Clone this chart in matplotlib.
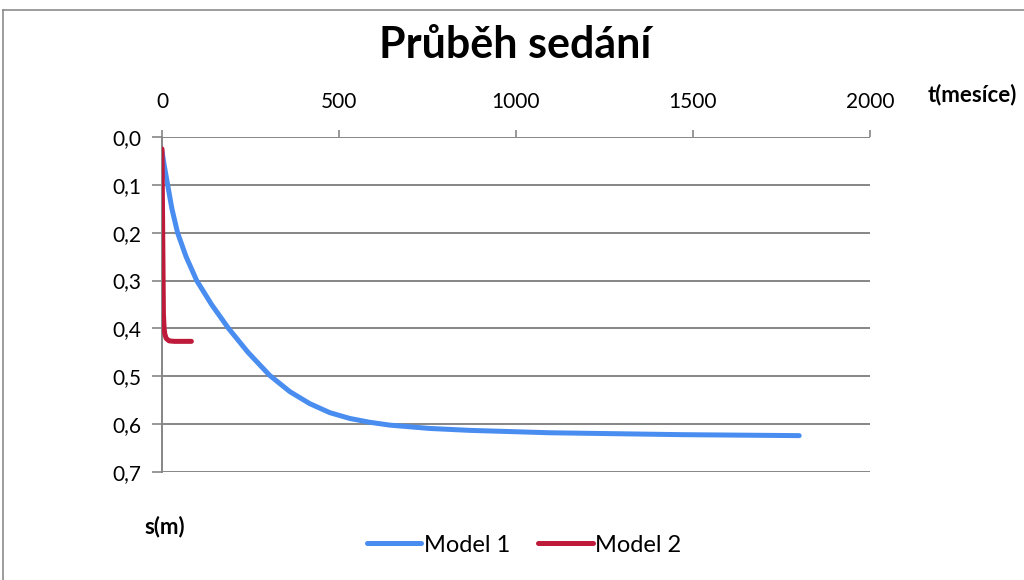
import matplotlib
matplotlib.use("Agg")
import matplotlib.pyplot as plt
from matplotlib.lines import Line2D

# Data
t_model1 = [0, 6, 16, 28, 44, 68, 98, 140, 188, 243, 304, 361, 417, 474, 530, 586, 643, 756, 869, 1095, 1471, 1800]
s_model1 = [0.03, 0.058, 0.10, 0.15, 0.20, 0.25, 0.30, 0.35, 0.40, 0.45, 0.498, 0.532, 0.557, 0.576, 0.588, 0.596, 0.602, 0.609, 0.613, 0.618, 0.622, 0.624]
t_model2 = [0, 2, 4, 6, 8, 12, 20, 35, 60, 83]
s_model2 = [0.025, 0.20, 0.37, 0.40, 0.412, 0.421, 0.426, 0.427, 0.427, 0.427]
x_ticks = [0, 500, 1000, 1500, 2000]
y_ticks = [0.0, 0.1, 0.2, 0.3, 0.4, 0.5, 0.6, 0.7]
y_tick_labels = ["0,0", "0,1", "0,2", "0,3", "0,4", "0,5", "0,6", "0,7"]
series_names = ["Model 1", "Model 2"]
title = "Průběh sedání"
x_label = "t(mesíce)"
y_label = "s(m)"

plt.rcParams['font.family'] = ['Lato', 'DejaVu Sans']

fig = plt.figure(figsize=(10.24, 5.8), dpi=100)
ax = fig.add_axes([162/1024, 1-472/580, (870-162)/1024, (472-137)/580])

blue = "#4A8DF0"
red = "#BE1A3A"
grid_c = "#868686"

ax.plot(t_model1, s_model1, color=blue, lw=3.6, solid_capstyle='round', solid_joinstyle='round', zorder=3)
ax.plot(t_model2, s_model2, color=red, lw=3.6, solid_capstyle='round', solid_joinstyle='round', zorder=4)

ax.set_xlim(0, 2000)
ax.set_ylim(0.7, 0.0)
ax.xaxis.tick_top()
ax.set_xticks(x_ticks)
ax.set_xticklabels([str(v) for v in x_ticks])
ax.set_yticks(y_ticks)
ax.set_yticklabels(y_tick_labels)
ax.tick_params(axis='x', direction='out', length=5, width=1.2, color=grid_c, labelsize=15, pad=13)
ax.tick_params(axis='y', direction='out', length=7, width=1.2, color=grid_c, labelsize=15, pad=8)
for lab in ax.get_xticklabels() + ax.get_yticklabels():
    lab.set_color("#000000")

ax.grid(axis='y', color=grid_c, lw=1.4)
ax.set_axisbelow(True)
for side in ['right', 'bottom', 'top']:
    ax.spines[side].set_visible(False)
ax.spines['left'].set_color(grid_c)
ax.spines['left'].set_linewidth(1.4)

fig.text(515/1024, 1-45/580, title, ha='center', va='center', fontsize=31, fontweight='bold')
fig.text(972/1024, 1-95/580, x_label, ha='center', va='center', fontsize=16, fontweight='bold')
fig.text(165/1024, 1-527/580, y_label, ha='center', va='center', fontsize=16, fontweight='bold')

handles = [Line2D([0], [0], color=blue, lw=3.6, solid_capstyle='round'),
           Line2D([0], [0], color=red, lw=3.6, solid_capstyle='round')]
fig.legend(handles, series_names, loc='center', bbox_to_anchor=(524/1024, 1-545/580),
           ncol=2, frameon=False, fontsize=17, handlelength=2.3, handletextpad=0.1,
           columnspacing=1.2)

# chart border
fig.add_artist(Line2D([3/1024, 3/1024], [0, 1-10/580], color="#8C8C8C", lw=1.2, transform=fig.transFigure))
fig.add_artist(Line2D([3/1024, 1], [1-10/580, 1-10/580], color="#8C8C8C", lw=1.2, transform=fig.transFigure))

fig.savefig("out.png", dpi=100)
